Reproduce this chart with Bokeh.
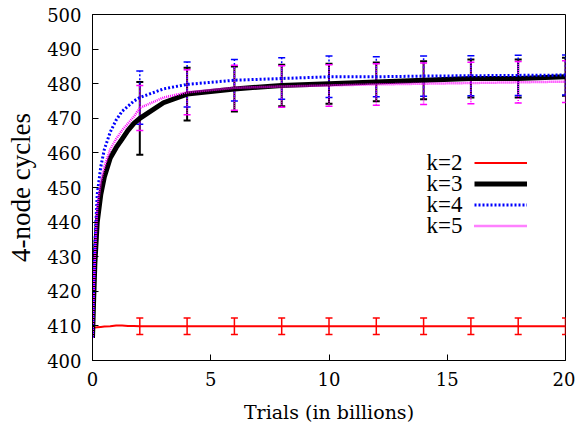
from bokeh.plotting import figure
from bokeh.models import (Whisker, TeeHead, ColumnDataSource, Legend, LegendItem,
                          Label, FixedTicker, Range1d)
from bokeh.embed import file_html
from bokeh.resources import INLINE

# ---- data ----
x_curve = [0, 0.05, 0.1, 0.2, 0.35, 0.5, 0.75, 1, 1.25, 1.5, 1.75, 2, 3, 4, 6, 8, 10, 12, 14, 16, 18, 20]
k2 = [409.0, 409.3, 409.5, 409.6, 409.7, 409.8, 409.9, 410.1, 410.1, 410.0, 410.0, 409.9, 409.9, 409.9,
      409.9, 409.9, 409.9, 409.9, 409.9, 409.9, 409.9, 409.9]
k3 = [406.5, 418, 428, 440, 448, 453, 458.5, 461.5, 464, 466.5, 468.5, 470, 474.5, 477, 478.5, 479.5,
      480, 480.5, 481, 481.5, 481.5, 482]
k4 = [406.5, 422, 433, 448, 456, 461, 466, 469.5, 472, 473.5, 475, 476, 478.5, 479.8, 481, 481.5,
      482, 482, 482.2, 482.3, 482.4, 482.5]
k5 = [406.5, 420, 430, 444, 451.5, 456, 461, 464, 466.5, 468.5, 470.5, 473, 476, 477.5, 478.8, 479.2,
      479.5, 479.8, 480, 480.2, 480.4, 480.6]

err_x = [2, 4, 6, 8, 10, 12, 14, 16, 18, 20]
k2_err = [2.4, 2.4, 2.4, 2.4, 2.4, 2.4, 2.4, 2.4, 2.4, 2.4]
k3_err = [10.5, 7.6, 6.5, 6.0, 5.8, 5.6, 5.5, 5.5, 5.5, 5.5]
k4_err = [7.7, 6.5, 6.0, 6.0, 6.0, 5.8, 5.8, 5.8, 5.8, 5.8]
k5_err = [6.5, 6.5, 6.5, 6.0, 6.0, 6.0, 6.0, 6.0, 6.0, 6.0]

labels = ["k=2", "k=3", "k=4", "k=5"]
y_ticks = [400, 410, 420, 430, 440, 450, 460, 470, 480, 490, 500]
x_ticks = [0, 5, 10, 15, 20]
y_title = "4-node cycles"
x_title = "Trials (in billions)"

FONT = "Liberation Serif"
AXFONT = "DejaVu Serif"

p = figure(width=575, height=425, x_range=Range1d(0, 20), y_range=Range1d(400, 500),
           output_backend="svg", toolbar_location=None,
           min_border_left=92, min_border_right=10, min_border_top=14, min_border_bottom=62)
p.background_fill_color = "white"
p.border_fill_color = "white"
p.outline_line_color = "black"
p.outline_line_width = 1
p.xgrid.visible = False
p.ygrid.visible = False

p.xaxis.ticker = FixedTicker(ticks=x_ticks)
p.yaxis.ticker = FixedTicker(ticks=y_ticks)
p.xaxis.axis_label = x_title
p.yaxis.axis_label = y_title
for ax in (p.xaxis, p.yaxis):
    ax.major_tick_in = 6
    ax.major_tick_out = 0
    ax.minor_tick_in = 0
    ax.minor_tick_out = 0
    ax.axis_line_color = "black"
    ax.major_tick_line_color = "black"
    ax.major_label_text_font = AXFONT
    ax.major_label_text_font_size = "18px"
    ax.major_label_text_color = "black"
    ax.axis_label_text_font_style = "normal"
    ax.axis_label_text_color = "black"
p.xaxis.axis_label_text_font = AXFONT
p.xaxis.axis_label_text_font_size = "19px"
p.yaxis.axis_label_text_font = FONT
p.yaxis.axis_label_text_font_size = "27px"
p.xaxis.major_label_standoff = 11
p.xaxis.axis_label_standoff = 12
p.yaxis.major_label_standoff = 11
p.yaxis.axis_label_standoff = 8

series = [
    (k2, k2_err, "red", 2, "solid", 1.5),
    (k3, k3_err, "black", 5, "solid", 2),
    (k4, k4_err, "blue", 3, "2 2", 1.5),
    (k5, k5_err, "magenta", 2.5, "1 1", 1.5),
]

idx = [x_curve.index(v) for v in err_x]
renderers = []
for ys, errs, color, lw, dash, elw in series:
    r = p.line(x_curve, ys, line_color=color, line_width=lw, line_dash=dash)
    renderers.append(r)
    centers = [ys[i] for i in idx]
    src = ColumnDataSource(dict(x=err_x,
                                upper=[c + e for c, e in zip(centers, errs)],
                                lower=[c - e for c, e in zip(centers, errs)]))
    w = Whisker(source=src, base="x", upper="upper", lower="lower", dimension="height",
                line_color=color, line_width=elw, line_dash=dash,
                upper_head=TeeHead(size=7, line_color=color, line_width=elw),
                lower_head=TeeHead(size=7, line_color=color, line_width=elw))
    p.add_layout(w)

# legend: line samples on the right, texts on the left (as in the reference)
legend = Legend(items=[LegendItem(label=" ", renderers=[r]) for r in renderers],
                location=(382, 124), glyph_width=53, glyph_height=21, label_height=21,
                label_width=0, label_standoff=0, padding=0, margin=0, spacing=0,
                border_line_alpha=0, background_fill_alpha=0,
                label_text_font_size="2px")
p.add_layout(legend)

row_y = [198, 177, 156, 135]
for lab, yy in zip(labels, row_y):
    p.add_layout(Label(x=370, y=yy, x_units="screen", y_units="screen", text=lab,
                       text_align="right", text_baseline="middle", text_font=FONT,
                       text_font_size="23px", text_color="black"))

open("out.html", "w").write(file_html(p, INLINE))
